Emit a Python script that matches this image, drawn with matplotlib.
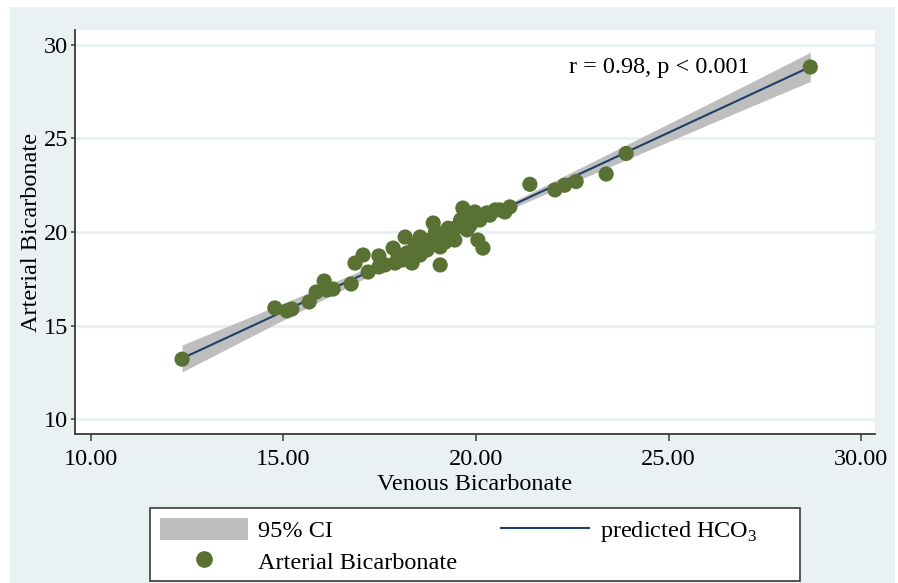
import numpy as np
import matplotlib
matplotlib.use("Agg")
import matplotlib.pyplot as plt
from matplotlib.patches import Rectangle, Patch
from matplotlib.lines import Line2D

# Data
venous = [12.37, 14.78, 15.09, 15.22, 15.67, 15.85, 16.06, 16.13, 16.29, 16.76,
          16.86, 17.07, 17.20, 17.48, 17.48, 17.85, 17.90, 18.16, 18.21, 18.34,
          18.55, 18.73, 18.89, 19.07, 19.07, 19.07, 19.33, 19.51, 19.66, 19.77,
          19.92, 20.05, 20.18, 20.28, 20.62, 20.88, 21.40, 22.05, 22.30, 22.60,
          23.38, 23.90, 28.68,
          17.98, 18.42, 18.80, 19.20, 19.45, 19.60, 19.85, 20.10, 20.36, 20.75,
          17.64, 18.08, 18.55, 18.95, 19.28, 19.75, 19.97, 20.50]
arterial = [13.20, 15.94, 15.78, 15.88, 16.26, 16.79, 17.38, 16.90, 16.95, 17.22,
            18.34, 18.77, 17.86, 18.72, 18.13, 19.14, 18.34, 19.73, 18.88, 18.34,
            19.73, 19.04, 20.48, 19.68, 19.20, 18.24, 19.95, 20.27, 21.28, 20.11,
            20.80, 19.57, 19.14, 21.02, 21.18, 21.34, 22.55, 22.25, 22.50, 22.70,
            23.10, 24.20, 28.82,
            18.77, 19.30, 19.57, 19.46, 19.57, 20.64, 20.37, 20.64, 20.90, 21.07,
            18.24, 18.50, 18.77, 20.00, 20.20, 20.96, 21.07, 21.18]

# Fitted line (predicted HCO3) and its 95% CI
fit_x = [12.37, 28.68]
fit_y = [13.24, 28.83]
ci_x = [12.37, 14.0, 16.0, 18.0, 19.5, 21.0, 23.0, 25.0, 27.0, 28.68]
ci_lo = [12.52, 14.24, 16.35, 18.44, 19.93, 21.32, 23.07, 24.83, 26.59, 28.05]
ci_hi = [13.96, 15.34, 17.05, 18.80, 20.17, 21.66, 23.73, 25.79, 27.85, 29.61]

x_ticks = [10, 15, 20, 25, 30]
y_ticks = [10, 15, 20, 25, 30]
annotation = "r = 0.98, p < 0.001"
legend_labels = ["95% CI", "Arterial Bicarbonate", r"predicted HCO$_\mathregular{3}$"]

plt.rcParams['font.family'] = ['Liberation Serif', 'DejaVu Serif']
plt.rcParams['mathtext.fontset'] = 'custom'
plt.rcParams['mathtext.rm'] = 'Liberation Serif'

FS = 17.5
W, H = 898, 583
fig = plt.figure(figsize=(W / 100, H / 100), dpi=100, facecolor='white')
bg = Rectangle((10 / W, 0), (895 - 10) / W, (583 - 7) / H, transform=fig.transFigure,
               facecolor='#EAF1F3', edgecolor='none', zorder=-10)
fig.patches.append(bg)

ax = fig.add_axes([75 / W, 1 - 434 / H, (875 - 75) / W, (434 - 30) / H])
ax.set_facecolor('white')

band_color = '#BEBEBE'
line_color = '#1F3F6B'
dot_color = '#5A7134'

ax.fill_between(ci_x, ci_lo, ci_hi, color=band_color, linewidth=0, zorder=2)
ax.plot(fit_x, fit_y, color=line_color, linewidth=1.5, zorder=3)
ax.scatter(venous, arterial, s=120, color=dot_color, edgecolors='none', zorder=4)

ax.set_xlim(9.59, 30.36)
ax.set_ylim(9.2, 30.8)
ax.set_xticks(x_ticks)
ax.set_xticklabels([f"{v:.2f}" for v in x_ticks])
ax.set_yticks(y_ticks)
ax.set_yticklabels([str(v) for v in y_ticks])

ax.grid(axis='y', color='#E6EFF1', linewidth=1.8, zorder=0)
ax.grid(axis='x', visible=False)
ax.set_axisbelow(True)

for sp in ['top', 'right']:
    ax.spines[sp].set_visible(False)
for sp in ['left', 'bottom']:
    ax.spines[sp].set_color('#3A3A3A')
    ax.spines[sp].set_linewidth(1.3)

ax.tick_params(axis='x', direction='out', length=5, width=1.1, color='#3A3A3A',
               labelsize=FS, pad=6)
ax.tick_params(axis='y', direction='out', length=3, width=1.1, color='#3A3A3A',
               labelsize=FS, pad=2)

ax.set_xlabel("Venous Bicarbonate", fontsize=FS, labelpad=3)
ax.set_ylabel("Arterial Bicarbonate", fontsize=FS, labelpad=1)

ax.text(22.42, 28.77, annotation, fontsize=FS, ha='left', va='center', zorder=5)

# Legend frame
frame = Rectangle((150 / W, 1 - 581 / H), (800 - 150) / W, (581 - 508) / H,
                  transform=fig.transFigure, facecolor='white', edgecolor='#3A3A3A',
                  linewidth=1.2, zorder=5)
fig.patches.append(frame)

handles = [Patch(facecolor=band_color, edgecolor='none'),
           Line2D([], [], marker='o', linestyle='none', color=dot_color, markersize=11),
           Line2D([], [], color=line_color, linewidth=1.5)]
leg = fig.legend(handles, legend_labels, ncol=2, loc='upper left',
                 bbox_to_anchor=(160 / W, 1 - 518 / H),
                 fontsize=FS, frameon=False,
                 handlelength=3.6, handleheight=1.0, borderpad=0,
                 labelspacing=0.3, columnspacing=1.8, handletextpad=0.45,
                 borderaxespad=0)
leg.set_zorder(6)

fig.savefig("out.png", dpi=100, facecolor=fig.get_facecolor())
